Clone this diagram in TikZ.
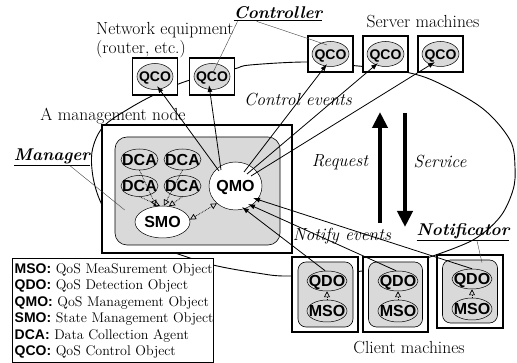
\documentclass[tikz,border=0pt]{standalone}
\usepackage{fontspec}
\newfontfamily\hv{Liberation Sans}
\usetikzlibrary{arrows.meta,shapes.geometric,calc}
\newcommand\ot[1]{\smash{\makebox[0pt]{\raisebox{-0.36em}{#1}}}}
\begin{document}
\begin{tikzpicture}[x=1pt,y=-1pt,
  frame/.style={draw, line width=1.5pt, fill=white, inner sep=0pt},
  panel/.style={draw, line width=0.6pt, fill=black!15, inner sep=0pt},
  obj/.style={ellipse, draw, line width=0.5pt, fill=black!15, inner sep=0pt, font=\hv\bfseries\fontsize{16}{16}\selectfont},
  qco/.style={obj, font=\hv\bfseries\fontsize{14}{14}\selectfont},
  wobj/.style={obj, fill=white},
  lbl/.style={font=\fontsize{17.5}{19}\selectfont, inner sep=0pt},
  ilbl/.style={font=\itshape\fontsize{17.5}{19}\selectfont, inner sep=0pt},
  role/.style={font=\bfseries\itshape\fontsize{17}{19}\selectfont, inner sep=0pt},
  lead/.style={line width=0.4pt, black!75},
  ctl/.style={line width=0.8pt, -{Latex[length=7pt,width=5pt]}},
  dotarr/.style={densely dotted, line width=0.7pt, -{Triangle[open,length=6pt,width=6pt]}},
  bigarr/.style={line width=4pt, -{Triangle[length=16pt,width=15pt]}},
]
\useasboundingbox (0,0) rectangle (517,363);

% big closed curve
\draw[line width=0.9pt] plot[smooth, tension=0.55] coordinates {(430,257) (473,240) (500,217) (513,190) (515,167) (510,140) (482,108) (432,80) (395,70) (358,66) (308,62) (250,65) (234,69) (190,80) (160,92) (130,108) (103,127) (92,152) (94,182) (105,210) (130,238) (175,253) (213,265) (257,273) (290,276) (362,271) (430,257)};

% network equipment
\node[frame, minimum width=45pt, minimum height=37pt] (nb1) at (155,76.5) {};
\node[qco, minimum width=36pt, minimum height=26pt] (q1) at (155,76.5) {\ot{QCO}};
\node[frame, minimum width=45pt, minimum height=37pt] (nb2) at (212,76.5) {};
\node[qco, minimum width=36pt, minimum height=26pt] (q2) at (212,76.5) {\ot{QCO}};

% server machines
\foreach \i/\x in {1/330.5,2/385.5,3/440.5}{
  \node[frame, minimum width=45pt, minimum height=36pt] (sb\i) at (\x,54) {};
  \node[qco, minimum width=37pt, minimum height=25pt] (qs\i) at (\x,54) {\ot{QCO}};
}

% management node
\node[frame, minimum width=190pt, minimum height=128pt] (mgmt) at (197,189) {};
\node[panel, rounded corners=12pt, minimum width=165pt, minimum height=108pt] (mgr) at (197.5,191) {};
\node[obj, minimum width=37pt, minimum height=21pt] (d1) at (139.5,159.5) {\ot{DCA}};
\node[obj, minimum width=37pt, minimum height=21pt] (d2) at (182.5,159.5) {\ot{DCA}};
\node[obj, minimum width=37pt, minimum height=21pt] (d3) at (139.5,186) {\ot{DCA}};
\node[obj, minimum width=37pt, minimum height=21pt] (d4) at (182.5,186) {\ot{DCA}};
\node[wobj, minimum width=53pt, minimum height=48pt] (qmo) at (235.5,186) {\ot{QMO}};
\node[wobj, minimum width=55pt, minimum height=32pt] (smo) at (162.5,222) {\ot{SMO}};

% client machines
\node[frame, minimum width=66pt, minimum height=75pt] (cb1) at (325,294.5) {};
\node[frame, minimum width=65pt, minimum height=75pt] (cb2) at (395.5,294.5) {};
\node[frame, minimum width=66pt, minimum height=73pt] (cb3) at (470,291.5) {};
\node[panel, rounded corners=8pt, minimum width=55pt, minimum height=65pt] (ci1) at (325.5,294.5) {};
\node[panel, rounded corners=8pt, minimum width=54pt, minimum height=65pt] (ci2) at (395.5,294.5) {};
\node[panel, rounded corners=8pt, minimum width=55pt, minimum height=63pt] (ci3) at (470,291.5) {};
\node[obj, minimum width=40pt, minimum height=20pt] (qd1) at (327,281) {\ot{QDO}};
\node[obj, minimum width=40pt, minimum height=22pt] (ms1) at (327,311) {\ot{MSO}};
\node[obj, minimum width=40pt, minimum height=20pt] (qd2) at (398,281) {\ot{QDO}};
\node[obj, minimum width=40pt, minimum height=22pt] (ms2) at (398,311) {\ot{MSO}};
\node[obj, minimum width=40pt, minimum height=20pt] (qd3) at (472,279) {\ot{QDO}};
\node[obj, minimum width=40pt, minimum height=22pt] (ms3) at (472,309) {\ot{MSO}};

% legend
\node[draw, line width=0.8pt, fill=white, minimum width=201pt, minimum height=104pt, anchor=north west, inner sep=0pt] (legend) at (12,258) {};
\node[anchor=west, align=left, inner sep=0pt, font=\fontsize{14}{16.6}\selectfont] (legtext) at (14.5,311) {%
{\hv\bfseries MSO:} QoS MeaSurement Object\\
{\hv\bfseries QDO:} QoS Detection Object\\
{\hv\bfseries QMO:} QoS Management Object\\
{\hv\bfseries SMO:} State Management Object\\
{\hv\bfseries DCA:} Data Collection Agent\\
{\hv\bfseries QCO:} QoS Control Object};

% dotted internal arrows
\draw[dotarr] (d1.south) -- (smo.112);
\draw[dotarr] (d3.south) -- (smo.99);
\draw[dotarr] (d2.south) -- (smo.85);
\draw[dotarr] (d4.south) -- (smo.68);
\draw[dotarr, {Triangle[open,length=6pt,width=6pt]}-{Triangle[open,length=6pt,width=6pt]}] (smo.5) -- (qmo.223);
\foreach \i in {1,2,3}{\draw[dotarr] (ms\i.north) -- (qd\i.south);}

% control events
\draw[ctl] ($(qmo)+(-16.5,-15)$) -- ($(q1)+(2,9.5)$);
\draw[ctl] ($(qmo)+(-14.5,-16)$) -- ($(q2)+(-3,8.5)$);
\draw[ctl] ($(qmo)+(8.5,-14)$) -- ($(qs1)+(-3.5,10)$);
\draw[ctl] ($(qmo)+(11.5,-12)$) -- ($(qs2)+(-7.5,9)$);
\draw[ctl] ($(qmo)+(15.5,-10)$) -- ($(qs3)+(-5.5,8)$);

% notify events
\draw[ctl] (qd1.100) -- ($(qmo)+(6.5,21)$);
\draw[ctl] (qd2.100) -- ($(qmo)+(12.5,18)$);
\draw[ctl] (qd3.north) -- ($(qmo)+(17.5,12)$);

% request / service
\coordinate (reqB) at (380,223);
\coordinate (reqT) at (380,112);
\coordinate (svcT) at (405,113);
\coordinate (svcB) at (405,227);
\draw[bigarr] (reqB) -- (reqT);
\draw[bigarr] (svcT) -- (svcB);

% labels
\node[lbl, anchor=west, align=left] (neteq) at (96,40) {Network equipment\\(router, etc.)};
\node[lbl] (srv) at (423,22) {Server machines};
\node[role] (ctrl) at (278,14) {\underline{Controller}};
\node[lbl] (mnode) at (113,116) {A management node};
\node[role] (mgrl) at (52,157) {\underline{Manager}};
\node[ilbl] (cev) at (298,100) {Control events};
\node[ilbl] (req) at (340,162) {Request};
\node[ilbl] (svc) at (440,162) {Service};
\node[ilbl] (nev) at (342,236) {Notify events};
\node[role] (notif) at (463,232) {\underline{Notificator}};
\node[lbl] (cm) at (409,348) {Client machines};

% leader lines
\draw[lead] ($(ctrl.south west)+(4,0)$) -- ($(q2)+(1,-4)$);
\draw[lead] ($(ctrl.south west)+(23,0)$) -- ($(qs1)+(-3.5,-9)$);
\draw[lead] ($(mgrl.south)+(18,0)$) -- ($(mgr.west)+(10,19)$);
\draw[lead] ($(notif.south)+(14,0)$) -- ($(ci3.north)+(12,3)$);
\end{tikzpicture}
\end{document}
